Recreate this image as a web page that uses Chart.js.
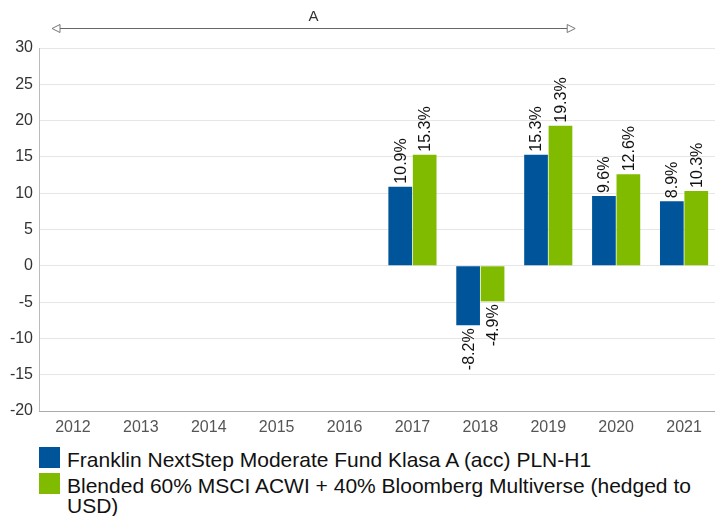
<!DOCTYPE html>
<html><head><meta charset="utf-8">
<script src="https://cdn.jsdelivr.net/npm/chart.js@4/dist/chart.umd.min.js"></script>
<style>
html,body{margin:0;padding:0;background:#fff;overflow:hidden;}
#wrap{position:relative;width:715px;height:516px;overflow:hidden;}
#c{position:absolute;left:0;top:0;}
#legend{position:absolute;left:39px;top:450px;width:670px;font-family:"Liberation Sans",Arial,sans-serif;font-size:21px;color:#111;line-height:20px;}
.item{position:relative;padding-left:28px;margin-bottom:6px;}
.box{position:absolute;left:0;top:-3px;width:21px;height:21px;}
</style></head>
<body>
<div id="wrap">
<canvas id="c" width="718" height="440"></canvas>
<div id="legend"></div>
</div>
<script>
const categories = ["2012","2013","2014","2015","2016","2017","2018","2019","2020","2021"];
const fundValues = [null,null,null,null,null,10.9,-8.2,15.3,9.6,8.9];
const benchValues = [null,null,null,null,null,15.3,-4.9,19.3,12.6,10.3];
const fundName = "Franklin NextStep Moderate Fund Klasa A (acc) PLN-H1";
const benchName = "Blended 60% MSCI ACWI + 40% Bloomberg Multiverse (hedged to USD)";
const yTicks = {min:-20, max:30, step:5};
const periodLabel = "A";
const periodStart = "2012", periodEnd = "2019";

const blue = "#00559a", green = "#80bb00";
const font = '"Liberation Sans", Arial, sans-serif';

const labelsPlugin = {
  id:'vlabels',
  afterDatasetsDraw(chart){
    const ctx = chart.ctx;
    ctx.save();
    ctx.font = '16px ' + font;
    ctx.fillStyle = '#111';
    chart.data.datasets.forEach((ds,di)=>{
      const meta = chart.getDatasetMeta(di);
      meta.data.forEach((bar,i)=>{
        const v = ds.data[i];
        if(v===null||v===undefined) return;
        const txt = v.toFixed(1)+'%';
        ctx.save();
        ctx.translate(bar.x, bar.y + (v>=0 ? -3 : 3));
        ctx.rotate(-Math.PI/2);
        ctx.textBaseline='middle';
        ctx.textAlign = v>=0 ? 'left' : 'right';
        ctx.fillText(txt,0,1);
        ctx.restore();
      });
    });
    ctx.restore();
  }
};

const arrowPlugin = {
  id:'periodArrow',
  afterDraw(chart){
    const ctx = chart.ctx, xs = chart.scales.x;
    const i0 = categories.indexOf(periodStart), i1 = categories.indexOf(periodEnd);
    const half = (xs.getPixelForValue(1)-xs.getPixelForValue(0))/2;
    const x0 = xs.getPixelForValue(i0)-half+13;
    const x1 = xs.getPixelForValue(i1)+half-7;
    const y = 28;
    ctx.save();
    ctx.strokeStyle='#666'; ctx.lineWidth=1;
    ctx.beginPath(); ctx.moveTo(x0+8,y+0.5); ctx.lineTo(x1-8,y+0.5); ctx.stroke();
    ctx.fillStyle='#fff'; ctx.strokeStyle='#777';
    ctx.beginPath(); ctx.moveTo(x0,y+0.5); ctx.lineTo(x0+8,y-3.5); ctx.lineTo(x0+8,y+4.5); ctx.closePath(); ctx.fill(); ctx.stroke();
    ctx.beginPath(); ctx.moveTo(x1,y+0.5); ctx.lineTo(x1-8,y-3.5); ctx.lineTo(x1-8,y+4.5); ctx.closePath(); ctx.fill(); ctx.stroke();
    ctx.fillStyle='#333'; ctx.font='15px '+font; ctx.textAlign='center'; ctx.textBaseline='middle';
    ctx.fillText(periodLabel,(x0+x1)/2,17);
    ctx.restore();
  }
};

new Chart(document.getElementById('c'),{
  type:'bar',
  data:{labels:categories,datasets:[
    {label:fundName,data:fundValues,backgroundColor:blue,borderWidth:0,categoryPercentage:0.72,barPercentage:0.97},
    {label:benchName,data:benchValues,backgroundColor:green,borderWidth:0,categoryPercentage:0.72,barPercentage:0.97}
  ]},
  options:{
    responsive:false,animation:false,
    layout:{padding:{top:48,left:0,right:0,bottom:0}},
    plugins:{legend:{display:false},tooltip:{enabled:false}},
    scales:{
      y:{min:yTicks.min,max:yTicks.max,
        ticks:{stepSize:yTicks.step,color:'#333',font:{family:font,size:16},padding:6},
        grid:{color:'#e6e6e6',drawTicks:false},
        border:{display:true,color:'#bbb'},
        afterFit(s){s.width=39;}
      },
      x:{ticks:{color:'#555',font:{family:font,size:16},padding:7,maxRotation:0},
        grid:{display:false,drawTicks:false},
        border:{display:true,color:'#aaa'},
        afterFit(s){s.height=29;}
      }
    }
  },
  plugins:[labelsPlugin,arrowPlugin]
});

const lg = document.getElementById('legend');
[[fundName,blue],[benchName,green]].forEach(([t,c])=>{
  const d=document.createElement('div'); d.className='item';
  const b=document.createElement('span'); b.className='box'; b.style.background=c;
  d.appendChild(b); d.appendChild(document.createTextNode(t)); lg.appendChild(d);
});
</script>
</body></html>
